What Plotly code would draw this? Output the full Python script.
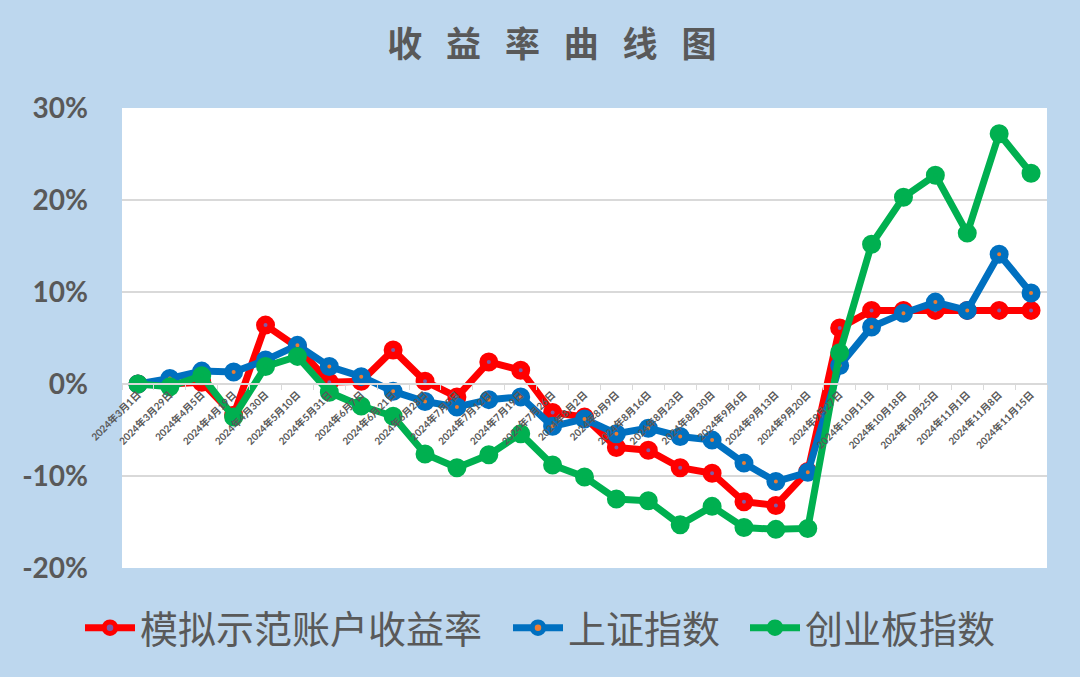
import plotly.graph_objects as go

dates = ["2024年3月1日", "2024年3月29日", "2024年4月5日", "2024年4月19日", "2024年4月30日",
         "2024年5月10日", "2024年5月31日", "2024年6月7日", "2024年6月21日", "2024年6月28日",
         "2024年7月5日", "2024年7月12日", "2024年7月19日", "2024年7月26日", "2024年8月2日",
         "2024年8月9日", "2024年8月16日", "2024年8月23日", "2024年8月30日", "2024年9月6日",
         "2024年9月13日", "2024年9月20日", "2024年9月27日", "2024年10月11日", "2024年10月18日",
         "2024年10月25日", "2024年11月1日", "2024年11月8日", "2024年11月15日"]

account = [0.0, 0.0, 0.2, -3.4, 6.4, 4.0, 0.2, 0.3, 3.7, 0.3,
           -1.4, 2.4, 1.5, -3.1, -3.6, -6.9, -7.2, -9.1, -9.7, -12.8,
           -13.2, -9.5, 6.1, 8.0, 8.0, 8.0, 8.0, 8.0, 8.0]

shanghai = [0.0, 0.6, 1.4, 1.3, 2.6, 4.2, 1.9, 0.8, -0.8, -1.9,
            -2.5, -1.7, -1.4, -4.6, -3.8, -5.4, -4.8, -5.7, -6.1, -8.6,
            -10.6, -9.6, 2.0, 6.2, 7.7, 8.9, 8.0, 14.1, 9.9]

chinext = [0.0, -0.3, 0.9, -3.6, 1.9, 3.0, -0.9, -2.4, -3.5, -7.6,
           -9.1, -7.7, -5.4, -8.8, -10.1, -12.5, -12.7, -15.3, -13.3, -15.6,
           -15.8, -15.7, 3.4, 15.2, 20.3, 22.7, 16.4, 27.2, 22.9]

series = [
    ("模拟示范账户收益率", account, "#FF0000", "#7E5CA8", "legend", 80),
    ("上证指数", shanghai, "#0070C0", "#ED7D31", "legend2", 508),
    ("创业板指数", chinext, "#00B050", "#00B050", "legend3", 745),
]

y_ticks = [-20, -10, 0, 10, 20, 30]
y_labels = ["-20%", "-10%", "0%", "10%", "20%", "30%"]

TEXT = "#595959"
W, H = 1080, 677
fig = go.Figure()
legends = {}
for name, vals, col, center, leg, lx in series:
    fig.add_trace(go.Scatter(
        x=dates, y=vals, name=name, mode="lines+markers", legend=leg,
        line=dict(color=col, width=7),
        marker=dict(size=11.5, color=center, line=dict(color=col, width=7.5)),
    ))
    legends[leg] = dict(orientation="h", xref="container", x=lx / W, xanchor="left",
                        yref="container", y=1 - 628 / H, yanchor="middle",
                        font=dict(family="Noto Sans CJK SC", size=38, color=TEXT),
                        bgcolor="rgba(0,0,0,0)", itemwidth=50)

fig.update_layout(
    width=W, height=H,
    margin=dict(l=122, r=33, t=108, b=109, autoexpand=False),
    paper_bgcolor="#BDD7EE",
    plot_bgcolor="#FFFFFF",
    title=dict(text="收&nbsp;&nbsp; 益&nbsp;&nbsp; 率&nbsp;&nbsp; 曲&nbsp;&nbsp; 线&nbsp;&nbsp; 图",
               x=0.511, xanchor="center",
               y=1 - 45 / H, yanchor="middle",
               font=dict(family="Noto Sans CJK SC", size=35, color=TEXT, weight="bold")),
    showlegend=True,
    **legends,
)

fig.update_xaxes(
    type="category", range=[-0.5, len(dates) - 0.5],
    anchor="free", position=(0 - y_ticks[0]) / (y_ticks[-1] - y_ticks[0]),
    showgrid=False, showline=True, linecolor="#D9D9D9", linewidth=2,
    ticks="outside", tickson="boundaries", ticklen=5, tickcolor="#D9D9D9",
    tickangle=-45,
    tickfont=dict(family="Lato, Noto Sans CJK SC", size=10, color=TEXT, weight="bold"),
    zeroline=False,
)
fig.update_yaxes(
    range=[y_ticks[0], y_ticks[-1]], tickvals=y_ticks, ticktext=y_labels,
    showgrid=True, gridcolor="#D9D9D9", gridwidth=2,
    zeroline=False, showline=False,
    ticklabelstandoff=33,
    tickfont=dict(family="Lato", size=28, color=TEXT, weight="bold"),
)

fig.write_html("out.html")
